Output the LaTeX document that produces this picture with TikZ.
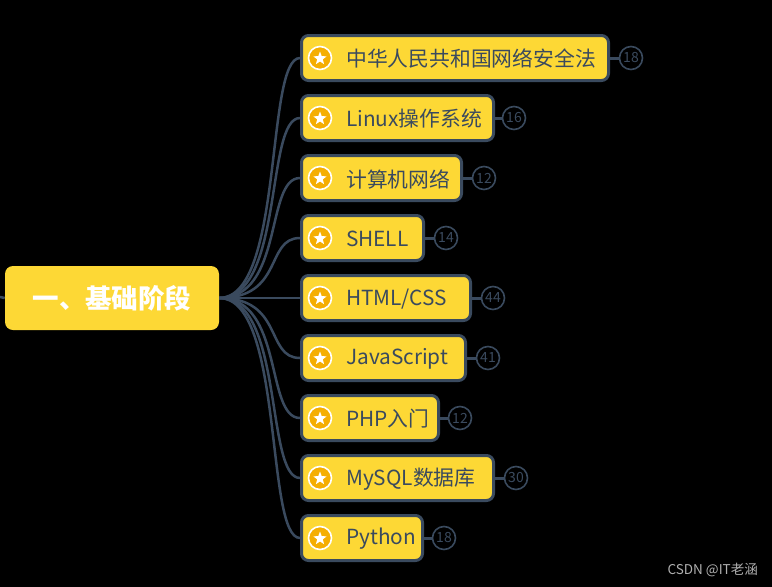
\documentclass[tikz,border=0pt]{standalone}
\usepackage{fontspec}
\setmainfont{Noto Sans CJK SC}
\usetikzlibrary{shapes.geometric}
\definecolor{bg}{HTML}{000000}
\definecolor{boxy}{HTML}{FDD835}
\definecolor{edge}{HTML}{3A4A5E}
\definecolor{staro}{HTML}{F5AE00}
\definecolor{wm}{HTML}{B0B0B0}
\tikzset{
  rootbox/.style={draw=none, fill=boxy, rounded corners=8pt, minimum width=214pt, minimum height=64pt, inner sep=0pt},
  childbox/.style={draw=edge, line width=3pt, fill=boxy, rounded corners=7pt, minimum height=45pt, inner sep=0pt, anchor=west},
  childtext/.style={anchor=west, inner sep=0pt, text=edge, font=\fontsize{20.8pt}{22pt}\selectfont},
  staricon/.style={circle, fill=staro, draw=white, line width=1.6pt, minimum size=23pt, inner sep=0pt},
  starglyph/.style={star, star points=5, star point ratio=2.4, fill=white, minimum size=14pt, inner sep=0pt},
  badge/.style={circle, draw=edge, line width=1.6pt, minimum size=23pt, inner sep=0pt, text=edge, font=\fontsize{14pt}{15pt}\selectfont},
  link/.style={draw=edge, line width=2.5pt},
  stub/.style={draw=edge, line width=3pt}
}
\begin{document}
\begin{tikzpicture}[x=1pt,y=-1pt]
\fill[bg] (0,0) rectangle (772,587);
\useasboundingbox (0,0) rectangle (772,587);
% root
\node[rootbox] (root) at (112,298) {};
\node[text=white, inner sep=0pt, font=\fontsize{26.5pt}{28pt}\selectfont\bfseries] (roottext) at (112,298) {一、基础阶段};
\coordinate (lstub) at (0,297);
\draw[link] (lstub) -- (root.west);
% children
\foreach \i/\y/\r/\bx/\n/\t in {
  1/58/610/631/18/{中华人民共和国网络安全法},
  2/118/495/514/16/{Linux操作系统},
  3/178/463/484/12/{计算机网络},
  4/238/425/446/14/{SHELL},
  5/298/472/493/44/{HTML/CSS},
  6/358/467/488/41/{JavaScript},
  7/418/440/460/12/{PHP入门},
  8/478/495/516/30/{MySQL数据库},
  9/538/424/444/18/{Python}}{
  \pgfmathsetmacro{\w}{\r-303}
  \node[childbox, minimum width=\w pt] (c\i) at (300,\y) {};
  \node[staricon] (s\i) at (320,\y) {};
  \node[starglyph] (g\i) at (320,\y+0.5) {};
  \node[childtext] (t\i) at (346,\y+1) {\t};
  \node[badge] (b\i) at (\bx,\y) {\n};
  \draw[stub] (c\i.east) -- (b\i.west);
  \draw[link] (root.east) .. controls +(65,0) and +(-35,0) .. (c\i.west);
}
\node[text=wm, anchor=east, inner sep=0pt, font=\fontsize{13.5pt}{14pt}\selectfont] (wmark) at (758,570) {CSDN @IT老涵};
\end{tikzpicture}
\end{document}
